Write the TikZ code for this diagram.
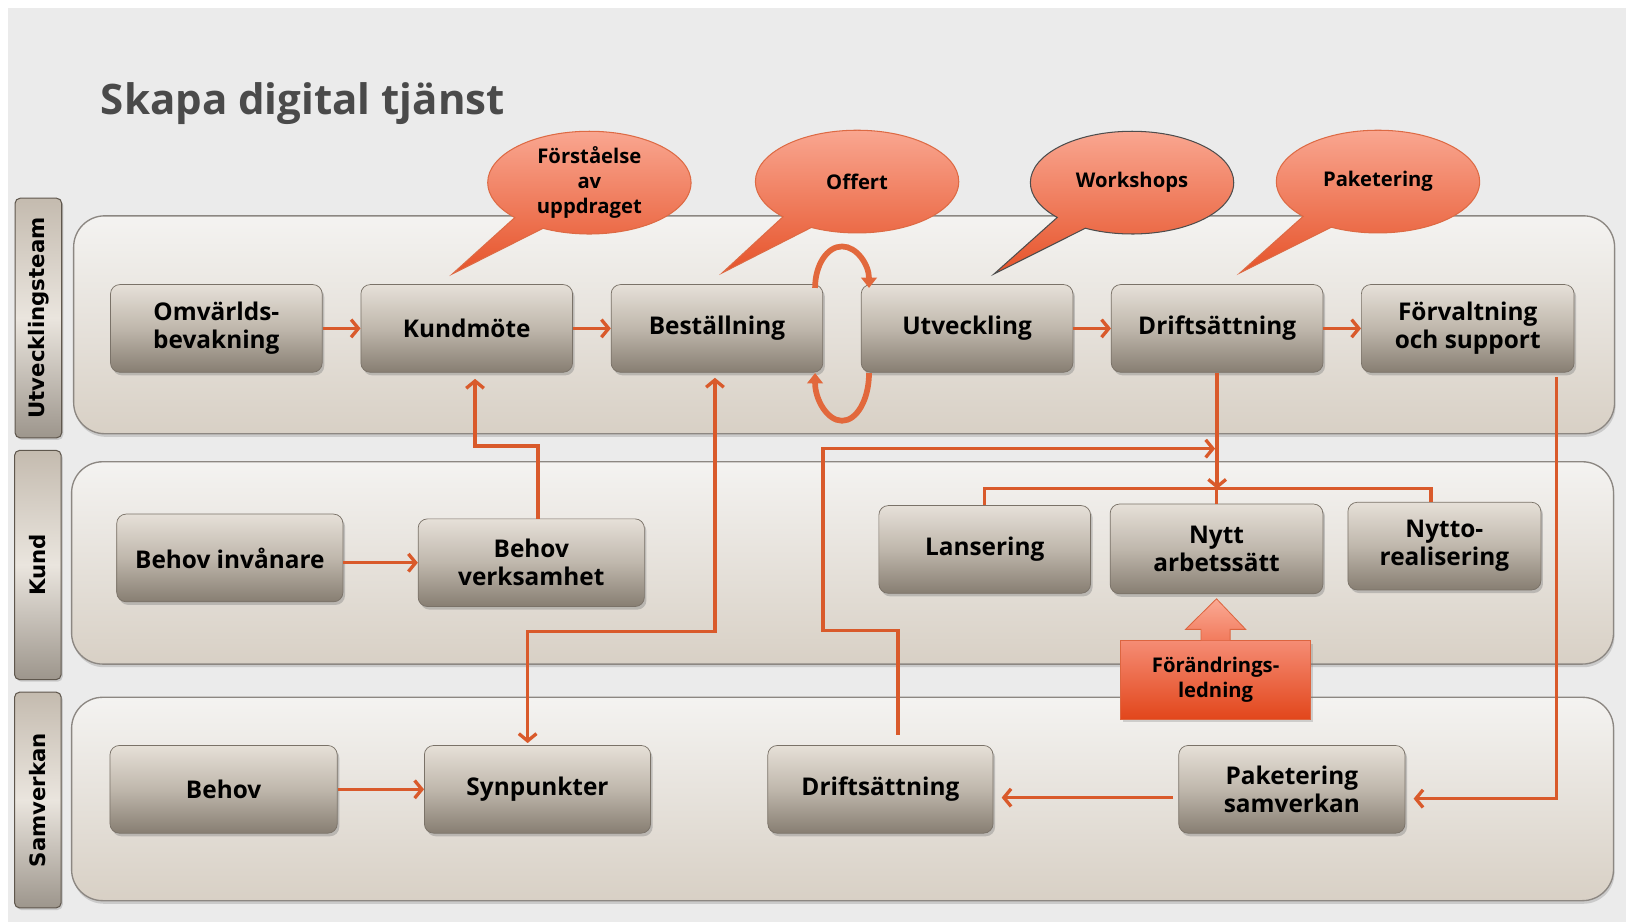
\documentclass[tikz,border=0pt]{standalone}
\usepackage{fontspec}
\setmainfont{Open Sans}
\newfontfamily\tabfont{DejaVu Sans}
\usetikzlibrary{arrows.meta,shadows,shapes.callouts,calc}

\definecolor{bgc}{HTML}{EBEBEB}
\definecolor{lanetop}{HTML}{F4F3F1}
\definecolor{lanebot}{HTML}{D8D0C5}
\definecolor{laneline}{HTML}{8C8782}
\definecolor{boxtop}{HTML}{E6E0D8}
\definecolor{boxmid}{HTML}{BFB7AC}
\definecolor{boxbot}{HTML}{877E72}
\definecolor{boxline}{HTML}{7A7268}
\definecolor{tabmid}{HTML}{EAE5DE}
\definecolor{tabside}{HTML}{C4BBAF}
\definecolor{tabline}{HTML}{5F574D}
\definecolor{arrowc}{HTML}{D95A2B}
\definecolor{loopc}{HTML}{E2683C}
\definecolor{bubtop}{HTML}{F9A690}
\definecolor{bubbot}{HTML}{E6532A}
\definecolor{bubline}{HTML}{DD6A44}
\definecolor{wsline}{HTML}{4D4D4D}
\definecolor{chgtop}{HTML}{F58C74}
\definecolor{chgbot}{HTML}{E2461B}
\definecolor{chgline}{HTML}{DC6540}
\definecolor{uptop}{HTML}{FAAA95}
\definecolor{upbot}{HTML}{F27B5D}
\definecolor{titlec}{HTML}{4A4A4A}

\begin{document}
\begin{tikzpicture}[x=1pt,y=-1pt,
  lanebox/.style={draw=laneline, line width=1.3pt, rounded corners=30pt, top color=lanetop, bottom color=lanebot, inner sep=0pt, drop shadow={shadow xshift=1pt, shadow yshift=-3pt, opacity=0.3}},
  tabbox/.style={draw=tabline, line width=1pt, rounded corners=5pt, rotate=90, inner sep=0pt, minimum height=45pt, top color=tabside, bottom color=tabside!80!black, middle color=tabmid, font=\tabfont\bfseries\fontsize{20.5}{23}\selectfont, text=black, drop shadow={shadow xshift=1.5pt, shadow yshift=-2pt, opacity=0.3}},
  stepbox/.style={draw=boxline, line width=0.7pt, rounded corners=9pt, top color=boxtop, bottom color=boxbot, middle color=boxmid, inner sep=0pt, align=center, text=black, font=\bfseries\fontsize{23.5}{27}\selectfont, minimum height=84.5pt, drop shadow={shadow xshift=2pt, shadow yshift=-3pt, opacity=0.4}},
  bubble/.style={ellipse callout, draw=bubline, line width=1pt, top color=bubtop, bottom color=bubbot, callout pointer arc=20, minimum width=196pt, minimum height=99pt, inner sep=0pt, align=center, text=black, font=\bfseries\fontsize{19.5}{24}\selectfont},
  conn/.style={draw=arrowc, line width=3.2pt},
  arr/.style={conn, -{Straight Barb[length=7pt,width=17pt]}},
  arrboth/.style={conn, {Straight Barb[length=7pt,width=17pt]}-{Straight Barb[length=7pt,width=17pt]}},
  looparr/.style={draw=loopc, line width=5.5pt, -{Triangle[length=10pt,width=15pt]}}
]
\useasboundingbox (0,0) rectangle (1568,889);
\fill[white] (0,0) rectangle (1568,889);
\fill[bgc] (8,8) rectangle (1567,889);

% lanes
\node[lanebox, minimum width=1485pt, minimum height=210pt] (l1) at (813.5,313) {};
\node[lanebox, minimum width=1486pt, minimum height=195pt] (l2) at (812,542.5) {};
\node[lanebox, minimum width=1486pt, minimum height=196pt] (l3) at (812,770) {};

% lane tabs
\node[tabbox, minimum width=231pt] (t1) at (37,306.5) {Utvecklingsteam};
\node[tabbox, minimum width=221pt] (t2) at (36.5,544.5) {Kund};
\node[tabbox, minimum width=208pt] (t3) at (36.5,771) {Samverkan};

% title
\node[anchor=base west, text=titlec, font=\bfseries\fontsize{40.5}{44}\selectfont, inner sep=0pt] (title) at (97,110) {Skapa digital tjänst};

% row 1
\node[stepbox, minimum width=204pt] (om) at (208.5,316.5) {Omvärlds-\\bevakning};
\node[stepbox, minimum width=204pt] (km) at (449.8,316.5) {Kundmöte};
\node[stepbox, minimum width=204pt] (bs) at (691,316.5) {Beställning};
\node[stepbox, minimum width=204pt] (ut) at (932,316.5) {Utveckling};
\node[stepbox, minimum width=204pt] (df) at (1173,316.5) {Driftsättning};
\node[stepbox, minimum width=205pt] (fv) at (1414.5,316.5) {Förvaltning\\och support};

% row 2
\node[stepbox, minimum width=218pt] (bi) at (221.5,537.7) {Behov invånare};
\node[stepbox, minimum width=218pt] (bv) at (512,542.3) {Behov\\verksamhet};
\node[stepbox, minimum width=204pt] (la) at (949,529.5) {Lansering};
\node[stepbox, minimum width=205pt, minimum height=86.5pt] (na) at (1172.4,529) {Nytt\\arbetssätt};
\node[stepbox, minimum width=186pt] (nr) at (1392,526.3) {Nytto-\\realisering};

% row 3
\node[stepbox, minimum width=219pt] (be) at (215.5,760.7) {Behov};
\node[stepbox, minimum width=218pt] (sp) at (518,760.7) {Synpunkter};
\node[stepbox, minimum width=217pt] (ds) at (848.5,760.7) {Driftsättning};
\node[stepbox, minimum width=218pt] (ps) at (1245,760.7) {Paketering\\samverkan};

% change management
\node[draw=chgline, line width=1pt, top color=chgtop, bottom color=chgbot, minimum width=183pt, minimum height=75.5pt, inner sep=0pt, align=center, text=black, font=\bfseries\fontsize{19.5}{24}\selectfont, drop shadow={shadow xshift=2pt, shadow yshift=-3pt, opacity=0.3}] (fl) at (1171.5,655.3) {Förändrings-\\ledning};
\path[draw=chgline, line width=0.8pt, top color=uptop, bottom color=upbot]
  ($(fl.north)+(-14,0)$) -- ($(fl.north)+(-14,-10.5)$) -- ($(fl.north)+(-29,-10.5)$)
  -- ($(na.south)+(0,4.5)$) -- ($(fl.north)+(29,-10.5)$) -- ($(fl.north)+(14,-10.5)$) -- ($(fl.north)+(14,0)$);

% speech bubbles
\node[bubble, callout absolute pointer={(436,264)}] (q1) at (568,176) {Förståelse\\av\\uppdraget};
\node[bubble, callout absolute pointer={(696,263)}] (q2) at (826,175) {Offert};
\node[bubble, draw=wsline, callout absolute pointer={(958,264)}] (q3) at (1091,176) {Workshops};
\node[bubble, callout absolute pointer={(1195,263)}] (q4) at (1328,175) {Paketering};

% connectors
\draw[arr] (om.east) -- (km.west);
\draw[arr] (km.east) -- (bs.west);
\draw[arr] (ut.east) -- (df.west);
\draw[arr] (df.east) -- (fv.west);
\draw[arr] (bi.east |- bv.west) -- (bv.west);
\draw[arr] (be.east) -- (sp.west);

\draw[arr] ($(bv.north)+(6.5,0)$) -- ++(0,-70) -| ($(km.south)+(8,6)$);
\draw[arrboth] ($(bs.south)+(-2,5)$) -- ++(0,244.8) -| ($(sp.north)+(-9.5,-2)$);

\coordinate (dfin) at ($(df.south)+(-2,73.25)$);
\draw[arr] ($(ds.north)+(17,-10)$) -- ++(0,-100.2) -- ++(-72.5,0) |- (dfin);

\coordinate (brk) at ($(na.north)+(0,-14.3)$);
\draw[conn] (la.north) |- (brk) -| ($(nr.north)+(-13,0)$);
\draw[conn] (brk) -- (na.north);
\draw[arr] (df.south) -- (df.south |- brk);

\draw[arr] ($(fv.south east)+(-17.5,4)$) |- ($(ps.east)+(8,9)$);
\draw[arr] ($(ps.west)+(-5,8)$) -- ($(ds.east)+(8,8)$);

% loop between Beställning and Utveckling
\coordinate (gap) at ($(bs.east)!0.5!(ut.west)$);
\draw[looparr] ($(gap)+(-26,-39)$) arc[start angle=180, end angle=0, x radius=26pt, y radius=40pt];
\draw[looparr] ($(gap)+(26,43)$) arc[start angle=0, end angle=-180, x radius=26pt, y radius=46pt];
\end{tikzpicture}
\end{document}
